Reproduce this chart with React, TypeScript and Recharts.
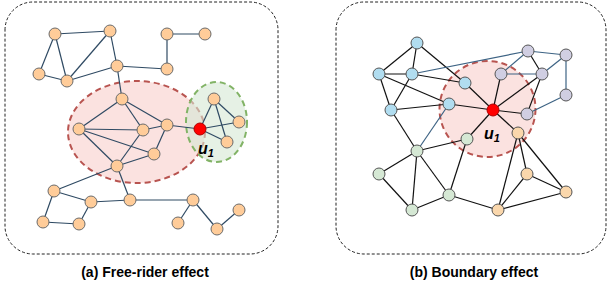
import React from "react";
import {
  ScatterChart,
  Scatter,
  XAxis,
  YAxis,
  ReferenceDot,
  ReferenceArea,
} from "recharts";

// (a) free-rider graph
const leftNodes = [
  { id: "a1", x: 55, y: 34 },
  { id: "a2", x: 110, y: 31 },
  { id: "a3", x: 167, y: 34 },
  { id: "a4", x: 205, y: 34 },
  { id: "a5", x: 39, y: 74 },
  { id: "a6", x: 67, y: 81 },
  { id: "a7", x: 117, y: 66 },
  { id: "a8", x: 167, y: 69 },
  { id: "a9", x: 122, y: 99 },
  { id: "a10", x: 79, y: 129 },
  { id: "a11", x: 143, y: 130 },
  { id: "a12", x: 167, y: 125 },
  { id: "a13", x: 154, y: 154 },
  { id: "a14", x: 117, y: 166 },
  { id: "a16", x: 214, y: 99 },
  { id: "a17", x: 239, y: 122 },
  { id: "a18", x: 227, y: 142 },
  { id: "a19", x: 54, y: 191 },
  { id: "a20", x: 91, y: 202 },
  { id: "a21", x: 130, y: 200 },
  { id: "a22", x: 193, y: 200 },
  { id: "a23", x: 239, y: 210 },
  { id: "a24", x: 43, y: 222 },
  { id: "a25", x: 79, y: 224 },
  { id: "a26", x: 178, y: 223 },
  { id: "a27", x: 217, y: 229 },
];
const leftU1 = [{ id: "a15", x: 200, y: 129 }];

const leftEdges = [
  ["a1", "a2"], ["a1", "a5"], ["a1", "a6"], ["a5", "a6"], ["a2", "a6"],
  ["a6", "a7"], ["a2", "a7"], ["a7", "a8"], ["a8", "a3"], ["a3", "a4"],
  ["a7", "a9"], ["a9", "a10"], ["a9", "a11"], ["a9", "a12"], ["a10", "a11"],
  ["a10", "a13"], ["a10", "a14"], ["a11", "a12"], ["a11", "a14"], ["a12", "a13"],
  ["a12", "a15"], ["a13", "a14"], ["a14", "a19"], ["a14", "a21"], ["a19", "a20"],
  ["a19", "a24"], ["a24", "a25"], ["a20", "a25"], ["a20", "a21"], ["a21", "a22"],
  ["a22", "a26"], ["a22", "a27"], ["a27", "a23"], ["a15", "a16"], ["a15", "a17"],
  ["a15", "a18"], ["a16", "a18"], ["a16", "a17"],
];

// (b) boundary graph
const blueNodes = [
  { id: "b1", x: 417, y: 43 },
  { id: "b2", x: 379, y: 74 },
  { id: "b3", x: 412, y: 74 },
  { id: "b4", x: 465, y: 83 },
  { id: "b5", x: 449, y: 104 },
  { id: "b6", x: 391, y: 110 },
];
const purpleNodes = [
  { id: "p1", x: 528, y: 51 },
  { id: "p2", x: 566, y: 55 },
  { id: "p3", x: 501, y: 74 },
  { id: "p4", x: 542, y: 74 },
  { id: "p5", x: 566, y: 95 },
  { id: "p6", x: 527, y: 114 },
];
const greenNodes = [
  { id: "g1", x: 467, y: 139 },
  { id: "g2", x: 417, y: 151 },
  { id: "g3", x: 379, y: 174 },
  { id: "g4", x: 449, y: 195 },
  { id: "g5", x: 412, y: 210 },
];
const orangeNodes = [
  { id: "o1", x: 518, y: 133 },
  { id: "o2", x: 527, y: 174 },
  { id: "o3", x: 566, y: 192 },
  { id: "o4", x: 498, y: 210 },
];
const rightU1 = [{ id: "u", x: 493, y: 110 }];

const rightEdges = [
  ["b1", "b2"], ["b1", "b3"], ["b1", "b4"], ["b2", "b3"], ["b2", "b6"],
  ["b2", "b5"], ["b3", "b6"], ["b3", "b4"], ["b6", "b5"], ["b6", "g2"],
  ["b5", "u"], ["b4", "u"], ["p3", "u"], ["p4", "u"], ["p6", "u"],
  ["o1", "u"], ["g1", "u"], ["p1", "p4"], ["p4", "p6"],
  ["g1", "g2"], ["g1", "g4"], ["g2", "g3"], ["g2", "g5"], ["g2", "g4"],
  ["g3", "g5"], ["g4", "g5"], ["g4", "o4"], ["o4", "o1"], ["o4", "o2"],
  ["o4", "o3"], ["o1", "o2"], ["o1", "o3"], ["o2", "o3"],
];
const rightBlueEdges = [
  ["b3", "p1"], ["b5", "g2"], ["p3", "p1"], ["p3", "p4"], ["p1", "p2"],
  ["p2", "p4"], ["p2", "p5"], ["p5", "p6"],
];

// highlighted neighbourhoods
const regions = [
  { x: 136.5, y: 132, rx: 68.5, ry: 51, fill: "#f8cecc", stroke: "#b85450" },
  { x: 216.5, y: 122, rx: 30.5, ry: 40, fill: "#d5e8d4", stroke: "#82b366" },
  { x: 487.5, y: 109, rx: 48, ry: 48, fill: "#f8cecc", stroke: "#b85450" },
];

const panels = [
  { x1: 5, x2: 278, y1: 2, y2: 254 },
  { x1: 336, x2: 606, y1: 2, y2: 254 },
];

const titles = [
  { x: 145, y: 272, text: "(a) Free-rider effect" },
  { x: 474, y: 272, text: "(b) Boundary effect" },
];

const allNodes = [
  ...leftNodes, ...leftU1, ...blueNodes, ...purpleNodes,
  ...greenNodes, ...orangeNodes, ...rightU1,
];
const pos = (id: string) => allNodes.find((n) => n.id === id)!;

const node = (fill: string, stroke = "#555") => (p: any) => (
  <circle cx={p.cx} cy={p.cy} r={6} fill={fill} stroke={stroke} strokeWidth={1} />
);

const regionShape = (p: any) => {
  const r = p.payload;
  return (
    <ellipse
      cx={p.cx}
      cy={p.cy}
      rx={r.rx}
      ry={r.ry}
      fill={r.fill}
      fillOpacity={0.6}
      stroke={r.stroke}
      strokeWidth={2}
      strokeDasharray="6 4"
    />
  );
};

const noDot = () => <g />;

const u1Label = (p: any) => (
  <text
    x={p.viewBox.x + 4}
    y={p.viewBox.y + 24}
    fontFamily="Liberation Sans, Arial, sans-serif"
    fontWeight="bold"
    fontStyle="italic"
    fontSize={16}
    fill="#000"
  >
    u
    <tspan fontSize={11} dy={3}>
      1
    </tspan>
  </text>
);

const edgeLines = (edges: string[][], color: string, prefix: string) =>
  edges.map(([a, b], i) => (
    <Scatter
      key={prefix + i}
      data={[pos(a), pos(b)]}
      line={{ stroke: color, strokeWidth: 1.2 }}
      shape={noDot}
      isAnimationActive={false}
    />
  ));

export default function App() {
  return (
    <div style={{ position: "absolute", left: 0, top: 0, background: "#fff" }}>
      <ScatterChart
        width={608}
        height={286}
        margin={{ top: 0, right: 0, bottom: 0, left: 0 }}
      >
        <XAxis type="number" dataKey="x" domain={[0, 608]} hide />
        <YAxis type="number" dataKey="y" domain={[0, 286]} reversed hide />
        {panels.map((r, i) => (
          <ReferenceArea
            key={"panel" + i}
            x1={r.x1}
            x2={r.x2}
            y1={r.y1}
            y2={r.y2}
            fill="none"
            fillOpacity={0}
            stroke="#222"
            strokeWidth={1}
            strokeDasharray="3 2"
            radius={28}
            ifOverflow="visible"
          />
        ))}
        <Scatter data={regions} shape={regionShape} isAnimationActive={false} />
        {edgeLines(leftEdges, "#2f4a63", "l")}
        {edgeLines(rightEdges, "#111", "r")}
        {edgeLines(rightBlueEdges, "#3d6384", "rb")}
        <Scatter data={leftNodes} shape={node("#ffcc99", "#6b6b6b")} isAnimationActive={false} />
        <Scatter data={leftU1} shape={node("#ff0000", "#b00000")} isAnimationActive={false} />
        <Scatter data={blueNodes} shape={node("#b1ddf0")} isAnimationActive={false} />
        <Scatter data={purpleNodes} shape={node("#d0cee2")} isAnimationActive={false} />
        <Scatter data={greenNodes} shape={node("#d5e8d4")} isAnimationActive={false} />
        <Scatter data={orangeNodes} shape={node("#fad7ac")} isAnimationActive={false} />
        <Scatter data={rightU1} shape={node("#ff0000", "#b00000")} isAnimationActive={false} />
        <ReferenceDot x={194} y={130} r={0} ifOverflow="visible" label={u1Label} />
        <ReferenceDot x={480} y={115} r={0} ifOverflow="visible" label={u1Label} />
        {titles.map((t, i) => (
          <ReferenceDot
            key={"t" + i}
            x={t.x}
            y={t.y}
            r={0}
            ifOverflow="visible"
            label={(p: any) => (
              <text
                x={p.viewBox.x}
                y={p.viewBox.y + 5}
                textAnchor="middle"
                fontFamily="Liberation Sans, Arial, sans-serif"
                fontWeight="bold"
                fontSize={14}
                fill="#000"
              >
                {t.text}
              </text>
            )}
          />
        ))}
      </ScatterChart>
    </div>
  );
}
